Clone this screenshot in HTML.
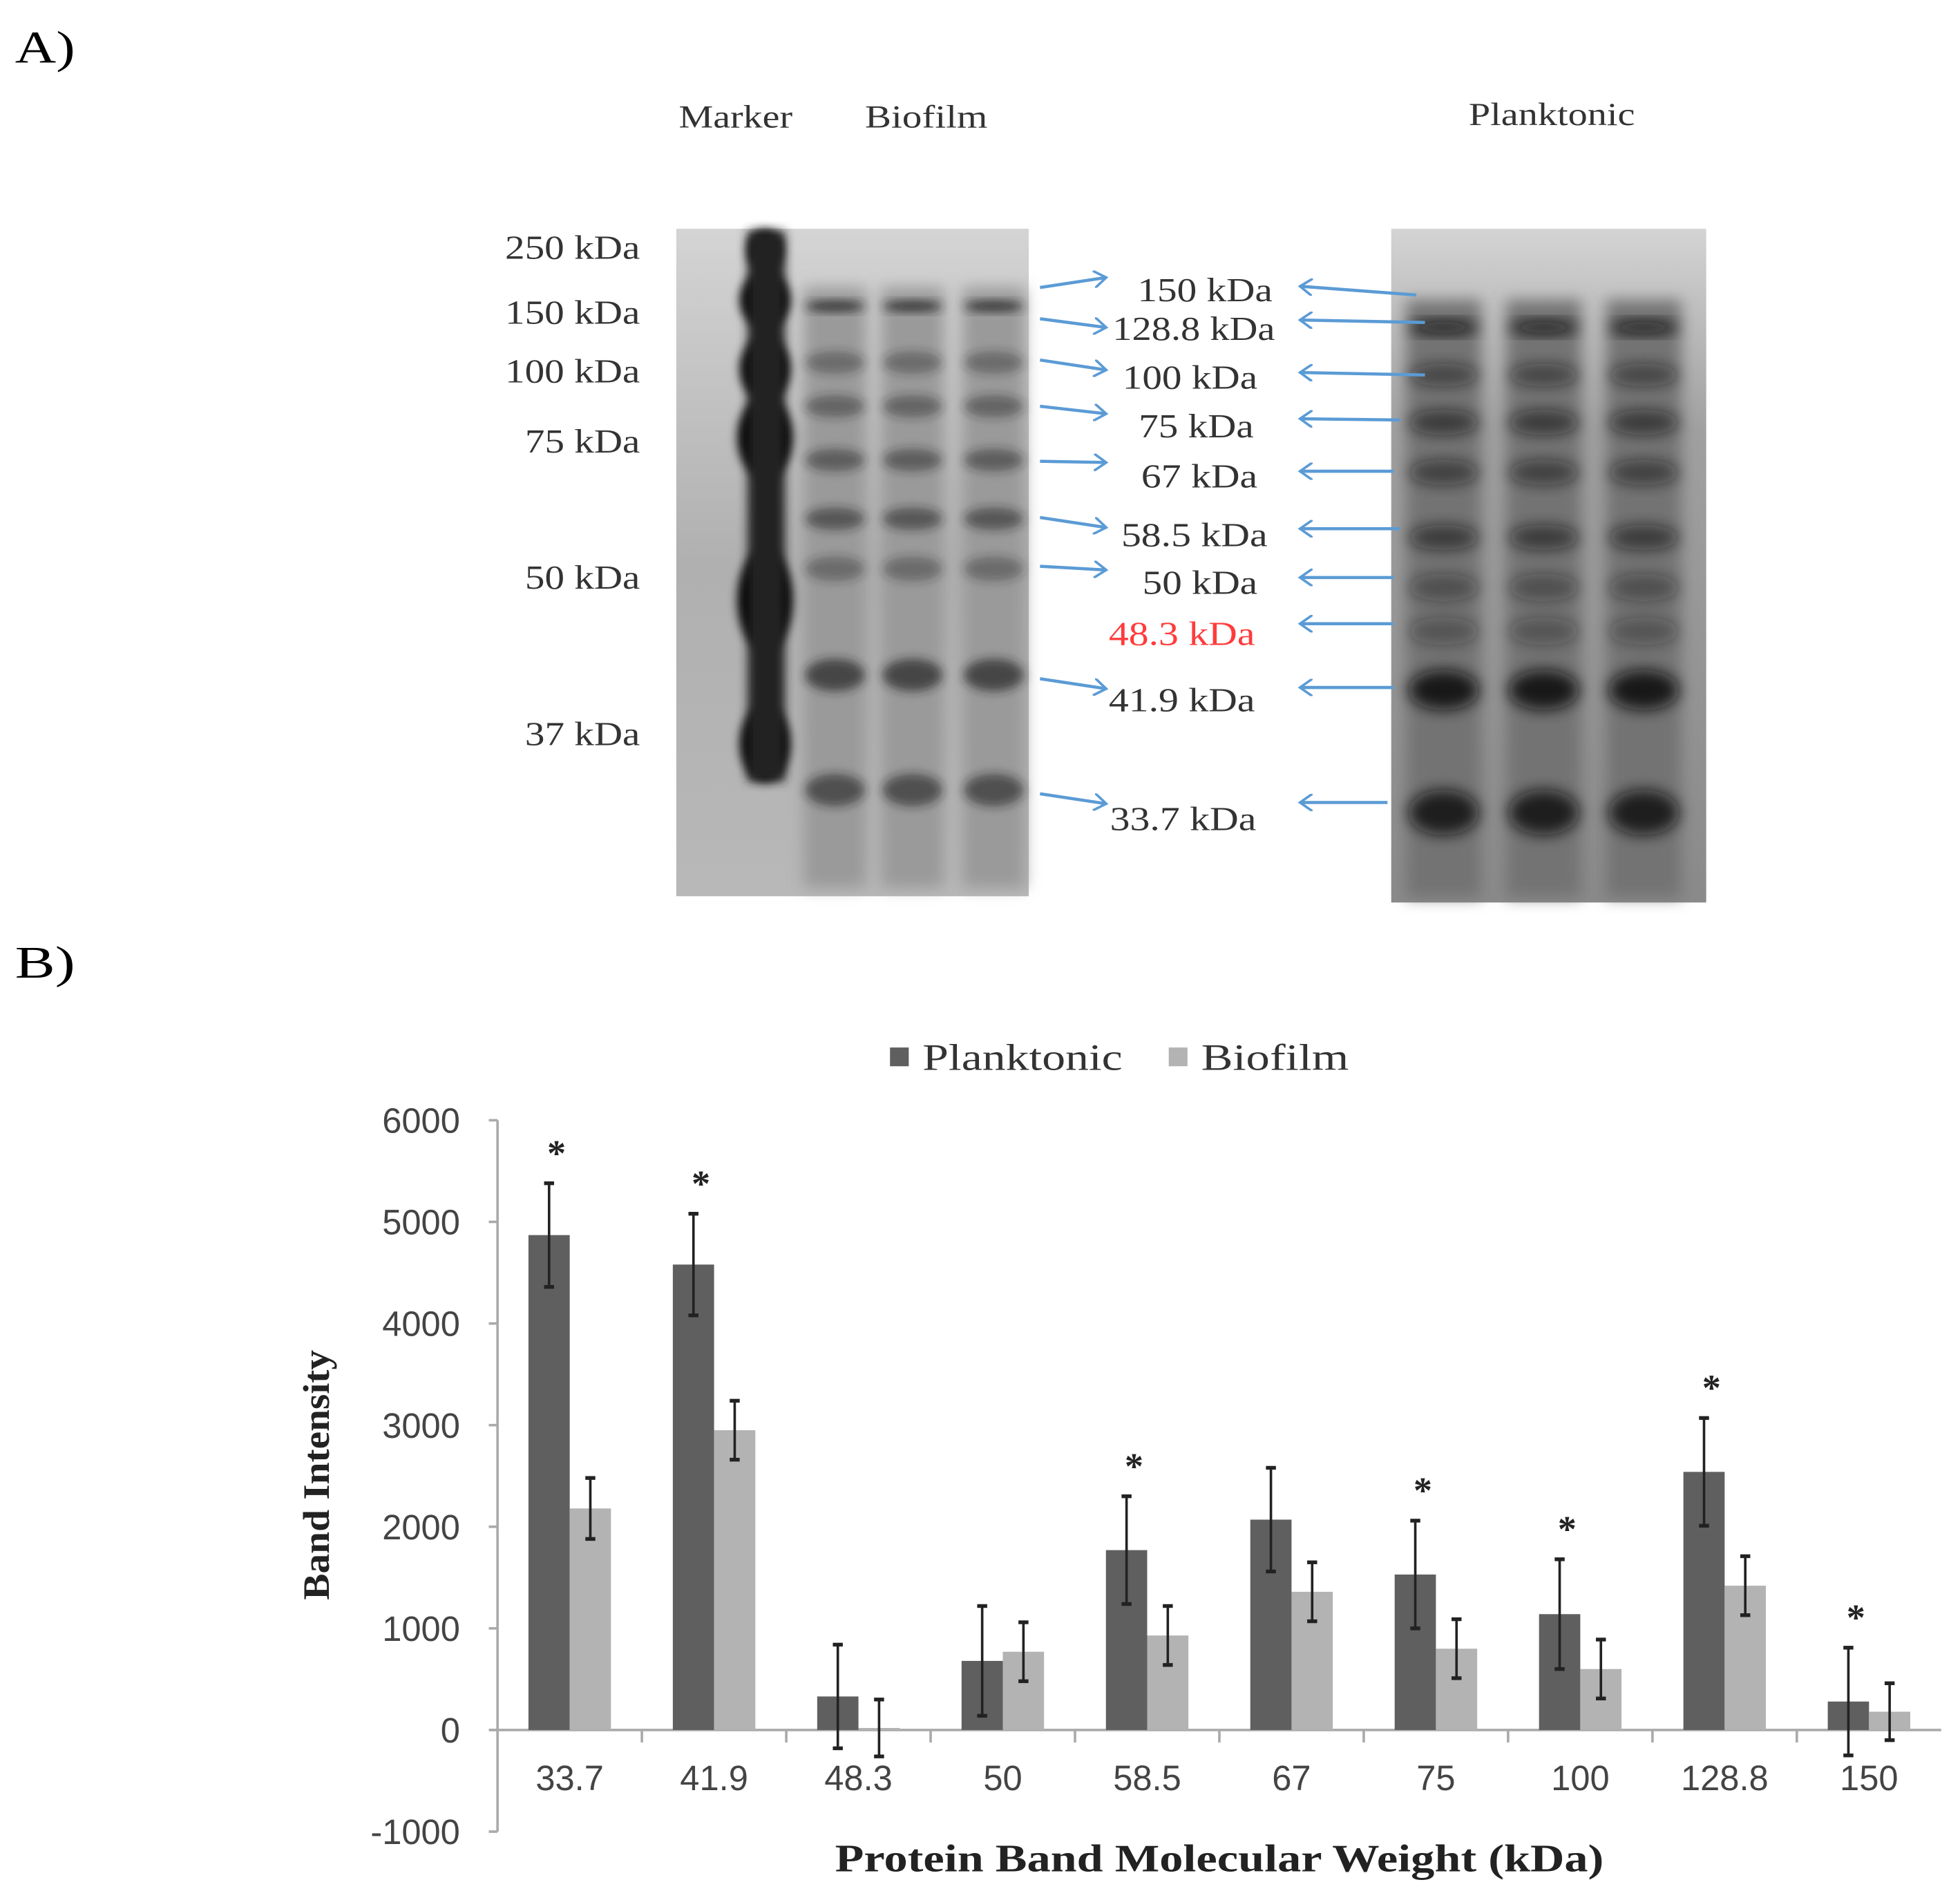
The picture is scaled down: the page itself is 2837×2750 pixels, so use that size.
<!DOCTYPE html>
<html><head><meta charset="utf-8"><style>
html,body{margin:0;padding:0;background:#fff;}
svg{display:block;}
text{font-family:"Liberation Serif",serif;}
.tick{font-family:"Liberation Sans",sans-serif;font-size:28px;fill:#444;}
</style></head><body>
<svg id="fig" width="2837" height="2750" viewBox="0 0 1568 1520" xmlns="http://www.w3.org/2000/svg">
<defs>
<filter id="blur" x="-50%" y="-50%" width="200%" height="200%"><feGaussianBlur stdDeviation="6"/></filter>
<filter id="blur2" x="-50%" y="-50%" width="200%" height="200%"><feGaussianBlur stdDeviation="4"/></filter>
<linearGradient id="g1" x1="0" y1="0" x2="0" y2="1"><stop offset="0" stop-color="#d4d4d4"/><stop offset="0.5" stop-color="#b0b0b0"/><stop offset="1" stop-color="#b8b8b8"/></linearGradient>
<linearGradient id="g2" x1="0" y1="0" x2="0" y2="1"><stop offset="0" stop-color="#d4d4d4"/><stop offset="0.3" stop-color="#a0a0a0"/><stop offset="1" stop-color="#8a8a8a"/></linearGradient>
<marker id="ah" markerWidth="12" markerHeight="14" refX="10" refY="7" orient="auto" markerUnits="userSpaceOnUse"><path d="M0,0 L10,7 L0,14" fill="none" stroke="#5b9bd5" stroke-width="2"/></marker>
</defs>
<text x="12" y="50" font-size="36" textLength="48" lengthAdjust="spacingAndGlyphs">A)</text>
<text x="12" y="782" font-size="36" textLength="48" lengthAdjust="spacingAndGlyphs">B)</text>
<g font-size="26" fill="#333">
<text x="543" y="102" textLength="91" lengthAdjust="spacingAndGlyphs">Marker</text><text x="692" y="102" textLength="98" lengthAdjust="spacingAndGlyphs">Biofilm</text><text x="1175" y="100" textLength="133" lengthAdjust="spacingAndGlyphs">Planktonic</text>
</g>
<g id="gels"></g>
<g id="ann"></g>
<g id="chart"></g>
</svg>
<script>
const NS="http://www.w3.org/2000/svg";
function mk(tag,attrs,parent,txt){const e=document.createElementNS(NS,tag);for(const k in attrs)e.setAttribute(k,attrs[k]);if(txt!==undefined)e.textContent=txt;parent.appendChild(e);return e;}
// ---- Gel images ----
const gels=document.getElementById('gels');
mk('rect',{x:541,y:183,width:282,height:534,fill:'url(#g1)'},gels);
mk('rect',{x:1113,y:183,width:252,height:539,fill:'url(#g2)'},gels);
const lanes1=[668,730,795], lanes2=[1155,1235,1315];
lanes1.forEach(x=>mk('rect',{x:x-25,y:230,width:50,height:480,fill:'#9a9a9a',filter:'url(#blur)'},gels));
lanes2.forEach(x=>mk('rect',{x:x-30,y:240,width:60,height:478,fill:'#737373',filter:'url(#blur)'},gels));
const markerBands=[[612,200,14,16],[612,240,20,22],[612,295,20,25],[612,350,22,32],[612,480,22,40],[612,595,20,30]];
markerBands.forEach(b=>mk('ellipse',{cx:b[0],cy:b[1],rx:b[2],ry:b[3],fill:'#050505',filter:'url(#blur2)'},gels));
mk('rect',{x:598,y:185,width:30,height:440,fill:'#222',filter:'url(#blur2)'},gels);
const bands1=[[245,0.9,4],[290,0.4,9],[325,0.45,9],[368,0.5,9],[415,0.55,9],[455,0.4,10],[540,0.7,13],[632,0.6,13]];
lanes1.forEach(x=>bands1.forEach(b=>mk('ellipse',{cx:x,cy:b[0],rx:24,ry:b[2],fill:'#222','fill-opacity':b[1],filter:'url(#blur2)'},gels)));
const bands2=[[262,0.95,5],[300,0.5,9],[338,0.6,10],[378,0.55,10],[430,0.6,10],[470,0.4,11],[505,0.35,11],[552,0.9,16],[650,0.85,18]];
lanes2.forEach(x=>bands2.forEach(b=>mk('ellipse',{cx:x,cy:b[0],rx:28,ry:b[2],fill:'#111','fill-opacity':b[1],filter:'url(#blur)'},gels)));
// ---- Annotations ----
const ann=document.getElementById('ann');
const leftLabels=[['250 kDa',207,108],['150 kDa',259,108],['100 kDa',306,108],['75 kDa',362,92],['50 kDa',471,92],['37 kDa',596,92]];
leftLabels.forEach(l=>{mk('text',{x:512-l[2],y:l[1],'font-size':27,fill:'#333',textLength:l[2],lengthAdjust:'spacingAndGlyphs'},ann,l[0]);});
const midLabels=[['150 kDa',241,'#333',910,108],['128.8 kDa',272,'#333',890,130],['100 kDa',311,'#333',898,108],['75 kDa',350,'#333',911,92],['67 kDa',390,'#333',913,93],['58.5 kDa',437,'#333',897,117],['50 kDa',475,'#333',914,92],['48.3 kDa',516,'#ff3b3b',887,117],['41.9 kDa',569,'#333',887,117],['33.7 kDa',664,'#333',888,117]];
midLabels.forEach(l=>mk('text',{x:l[3],y:l[1],'font-size':27,fill:l[2],textLength:l[4],lengthAdjust:'spacingAndGlyphs'},ann,l[0]));
const rArrows=[[230,222],[255,262],[288,296],[325,331],[369,370],[414,422],[453,456],[543,551],[635,643]];
rArrows.forEach(a=>mk('line',{x1:832,y1:a[0],x2:885,y2:a[1],stroke:'#5b9bd5','stroke-width':2.5,'marker-end':'url(#ah)'},ann));
const lArrows=[[236,229],[258,256],[300,298],[336,335],[377,377],[423,423],[462,462],[499,499],[550,550],[642,642]];
const lx=[1133,1140,1140,1120,1115,1120,1115,1115,1115,1110];
lArrows.forEach((a,i)=>mk('line',{x1:lx[i],y1:a[0],x2:1040,y2:a[1],stroke:'#5b9bd5','stroke-width':2.5,'marker-end':'url(#ah)'},ann));

// ---- Chart data ----
const categories=["33.7","41.9","48.3","50","58.5","67","75","100","128.8","150"];
const planktonic=[4870,4580,330,680,1770,2070,1530,1140,2540,280];
const planktonicErr=[510,500,510,540,530,510,530,540,530,530];
const biofilm=[2180,2950,20,770,930,1360,800,600,1420,180];
const biofilmErr=[300,290,280,290,290,290,290,290,290,280];
const significant=[true,true,false,false,true,false,true,true,true,true];
const yTicks=[-1000,0,1000,2000,3000,4000,5000,6000];

const chart=document.getElementById('chart');
const X0=398,X1=1553,Y0=1384,PER=81.3/1000;
const y=v=>Y0-v*PER;
const bw=(X1-X0)/categories.length;
const cx=i=>X0+bw*(i+0.5);
const barW=33;
let e=mk('line',{x1:X0,y1:y(6000),x2:X0,y2:y(-1000),stroke:'#aaa','stroke-width':2},chart);


e=mk('line',{x1:X0-6,y1:Y0,x2:X1,y2:Y0,stroke:'#aaa','stroke-width':2},chart);


yTicks.forEach(t=>{
  mk('line',{x1:X0-7,y1:y(t),x2:X0,y2:y(t),stroke:'#aaa','stroke-width':2},chart);
  const tx=mk('text',{x:X0-30,y:y(t)+10,'text-anchor':'end',class:'tick'},chart,String(t));
  
  
});
for(let i=1;i<categories.length;i++) mk('line',{x1:X0+bw*i,y1:Y0,x2:X0+bw*i,y2:Y0+10,stroke:'#aaa','stroke-width':2},chart);
categories.forEach((c,i)=>{
  const tx=mk('text',{x:cx(i),y:Y0+48,'text-anchor':'middle',class:'tick'},chart,c);
  
  
  const series=[[planktonic,planktonicErr,'#5f5f5f',cx(i)-barW],[biofilm,biofilmErr,'#b3b3b3',cx(i)]];
  series.forEach((s,k)=>{
    const v=s[0][i];
    const r=mk('rect',{x:s[3],y:Math.min(y(v),Y0),width:barW,height:Math.abs(Y0-y(v)),fill:s[2]},chart);
    
    
    const ex=s[3]+barW/2, err=s[1][i];
    mk('line',{x1:ex,y1:y(v+err),x2:ex,y2:y(v-err),stroke:'#222','stroke-width':2},chart);
    mk('line',{x1:ex-4,y1:y(v+err),x2:ex+4,y2:y(v+err),stroke:'#222','stroke-width':3},chart);
    mk('line',{x1:ex-4,y1:y(v-err),x2:ex+4,y2:y(v-err),stroke:'#222','stroke-width':3},chart);
  });
  if(significant[i]){
    const st=mk('text',{x:cx(i)-barW/2+6,y:y(planktonic[i]+planktonicErr[i])-14,'text-anchor':'middle','font-size':30,'font-weight':'bold',fill:'#222'},chart,'*');
    
    
  }
});
e=mk('text',{x:0,y:0,'font-size':30,'font-weight':'bold','text-anchor':'middle',textLength:200,lengthAdjust:'spacingAndGlyphs',transform:'translate(263,1180) rotate(-90)',fill:'#222'},chart,'Band Intensity');


e=mk('text',{x:668,y:1497,'font-size':31,'font-weight':'bold',textLength:615,lengthAdjust:'spacingAndGlyphs',fill:'#222'},chart,'Protein Band Molecular Weight (kDa)');


const lg=mk('g',{},chart);


mk('rect',{x:712,y:838,width:15,height:15,fill:'#5f5f5f'},lg);
mk('text',{x:738,y:856,'font-size':30,fill:'#333',textLength:160,lengthAdjust:'spacingAndGlyphs'},lg,'Planktonic');
mk('rect',{x:935,y:838,width:15,height:15,fill:'#b3b3b3'},lg);
mk('text',{x:961,y:856,'font-size':30,fill:'#333',textLength:118,lengthAdjust:'spacingAndGlyphs'},lg,'Biofilm');
</script>
</body></html>
